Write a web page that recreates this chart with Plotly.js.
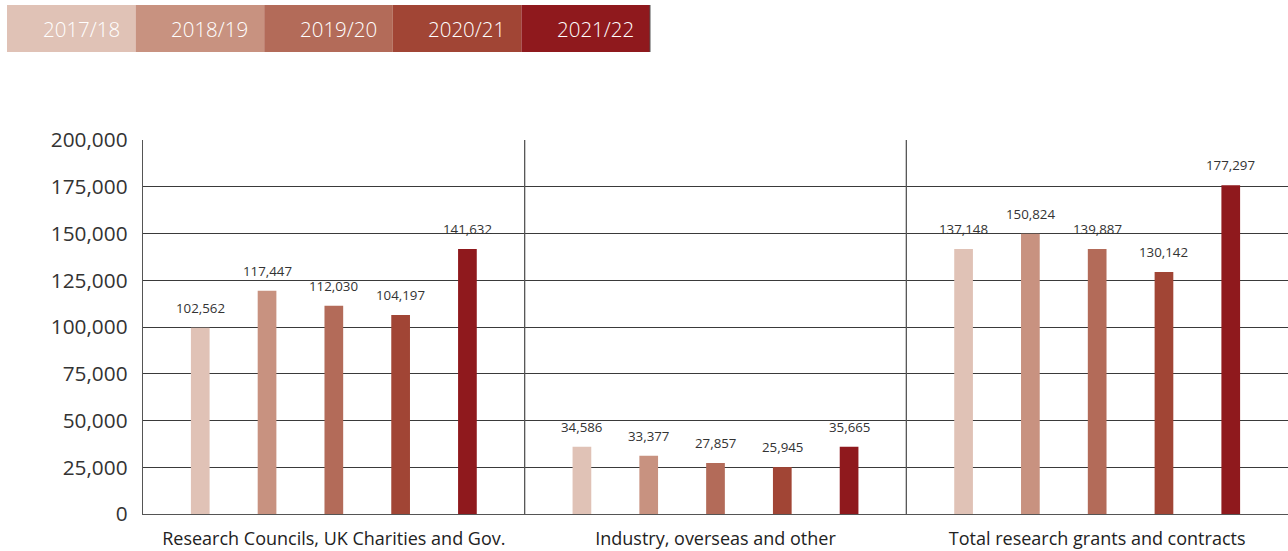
<!DOCTYPE html>
<html><head><meta charset="utf-8">
<script src="https://cdn.plot.ly/plotly-3.0.1.min.js"></script>
<style>html,body{margin:0;padding:0;background:#fff;}#chart{width:1288px;height:551px;}</style>
</head><body><div id="chart"></div>
<script>
const categories = ['Research Councils, UK Charities and Gov.', 'Industry, overseas and other', 'Total research grants and contracts'];
const years = ['2017/18', '2018/19', '2019/20', '2020/21', '2021/22'];
const colors = ['#E0C2B6', '#C89280', '#B36B59', '#A14535', '#8F191D'];

// bar heights as drawn in the picture
const heights_2017_18 = [99600, 36000, 141700];
const heights_2018_19 = [119400, 31200, 149900];
const heights_2019_20 = [111400, 27300, 141700];
const heights_2020_21 = [106400, 25100, 129400];
const heights_2021_22 = [141700, 36000, 175800];

// values printed above the bars
const labels_2017_18 = [102562, 34586, 137148];
const labels_2018_19 = [117447, 33377, 150824];
const labels_2019_20 = [112030, 27857, 139887];
const labels_2020_21 = [104197, 25945, 130142];
const labels_2021_22 = [141632, 35665, 177297];

const yTicks = [0, 25000, 50000, 75000, 100000, 125000, 150000, 175000, 200000];

const heights = [heights_2017_18, heights_2018_19, heights_2019_20, heights_2020_21, heights_2021_22];
const labels = [labels_2017_18, labels_2018_19, labels_2019_20, labels_2020_21, labels_2021_22];

const W = 1288, H = 551;
const M = {l: 143, r: 0, t: 140, b: 37};
const pw = W - M.l - M.r, ph = H - M.t - M.b;
const px2x = p => (p - M.l) / pw;
const py2y = p => (H - M.b - p) / ph;

const FONT = '"Open Sans", sans-serif';
const catIdx = categories.map((c, i) => i);
const bargap = 0.125;
const slot = (1 - bargap) / years.length;

const traces = years.map((yr, i) => ({
  type: 'bar', name: yr, x: catIdx, y: heights[i],
  marker: {color: colors[i], line: {width: 0}},
  hoverinfo: 'skip'
}));

const annotations = [];
years.forEach((yr, i) => {
  catIdx.forEach((c, j) => {
    annotations.push({
      x: c + (i - (years.length - 1) / 2) * slot, y: heights[i][j],
      xref: 'x', yref: 'y', text: labels[i][j].toLocaleString('en-GB'),
      showarrow: false, yanchor: 'middle', yshift: 20,
      font: {family: FONT, size: 13.3, color: '#333'}
    });
  });
});

const shapes = [];
// category separators
for (let k = 0; k < categories.length - 1; k++) {
  shapes.push({type: 'line', xref: 'x', yref: 'paper', x0: k + 0.5, x1: k + 0.5, y0: 0, y1: 1,
    line: {color: '#555', width: 1.3}});
}
// legend boxes
const boxL = 7, boxW = 128.6, boxT = 5, boxB = 52;
years.forEach((yr, i) => {
  const x0 = boxL + i * boxW, x1 = x0 + boxW;
  shapes.push({type: 'rect', xref: 'paper', yref: 'paper', x0: px2x(x0), x1: px2x(x1),
    y0: py2y(boxB), y1: py2y(boxT), fillcolor: colors[i], line: {width: 0}});
  annotations.push({xref: 'paper', yref: 'paper', x: px2x(x1 - 14), y: py2y((boxT + boxB) / 2),
    xanchor: 'right', yanchor: 'middle', text: yr, showarrow: false,
    font: {family: FONT, size: 20.5, color: '#fff', weight: 300}});
});
shapes.push({type: 'line', xref: 'paper', yref: 'paper', x0: px2x(boxL + 5 * boxW), x1: px2x(boxL + 5 * boxW),
  y0: py2y(boxB), y1: py2y(boxT), line: {color: '#555', width: 1}});

const layout = {
  width: W, height: H, margin: M,
  paper_bgcolor: '#fff', plot_bgcolor: '#fff',
  showlegend: false, barmode: 'group', bargap: bargap, bargroupgap: 0.72,
  font: {family: FONT, color: '#333'},
  xaxis: {type: 'linear', range: [-0.5, categories.length - 0.5], tickvals: catIdx, ticktext: categories,
    showgrid: false, zeroline: false, showline: true, linecolor: '#555', linewidth: 1.3,
    ticks: '', ticklabelstandoff: 8, tickfont: {family: FONT, size: 18, color: '#222'}, fixedrange: true},
  yaxis: {range: [0, 200000], tickvals: yTicks, tickformat: ',d', showgrid: true, gridcolor: '#3a3a3a', gridwidth: 1,
    zeroline: false, showline: true, linecolor: '#555', linewidth: 1.3, ticks: '', ticklabelstandoff: 10,
    tickfont: {family: FONT, size: 20.8, color: '#333'}, fixedrange: true},
  shapes: shapes, annotations: annotations
};

Plotly.newPlot('chart', traces, layout, {displayModeBar: false, staticPlot: true});
</script>
</body></html>
